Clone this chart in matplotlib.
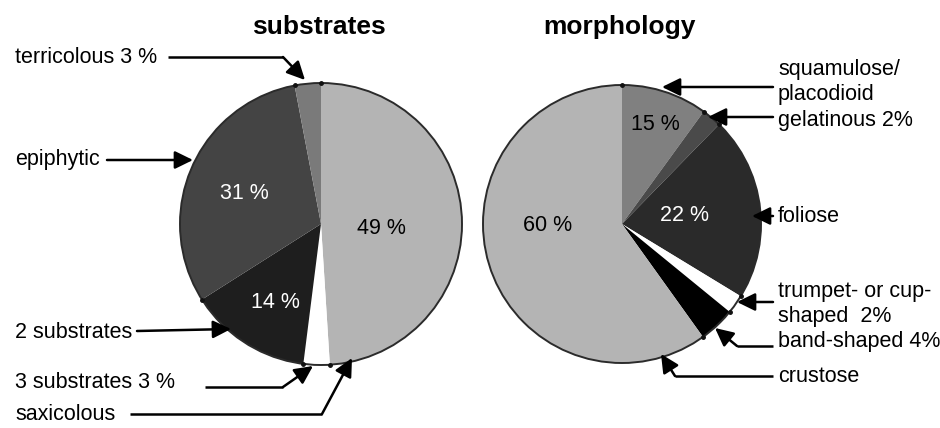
import numpy as np
import matplotlib.pyplot as plt
from matplotlib.patches import Circle

plt.rcParams["font.family"] = ["Liberation Sans", "DejaVu Sans"]

# substrates pie, clockwise from the top
substrate_labels = ["saxicolous", "3 substrates 3 %", "2 substrates", "epiphytic", "terricolous 3 %"]
substrate_values = [49, 3, 14, 31, 3]
substrate_pcts = ["49 %", "", "14 %", "31 %", ""]
substrate_colors = ["#b4b4b4", "#ffffff", "#1e1e1e", "#444444", "#7a7a7a"]

# morphology pie, clockwise from the top (slice sizes as drawn)
morph_labels = ["squamulose/\nplacodioid", "gelatinous 2%", "foliose",
                "trumpet- or cup-\nshaped  2%", "band-shaped 4%", "crustose"]
morph_values = [10, 2.3, 21.4, 2.2, 4.2, 59.9]
morph_pcts = ["15 %", "", "22 %", "", "", "60 %"]
morph_colors = ["#808080", "#4a4a4a", "#2a2a2a", "#ffffff", "#000000", "#b4b4b4"]

# layout in pixel coords of the 940x428 image (y down)
substrate_center, substrate_radius = (321, 224), 141
morph_center, morph_radius = (622, 224), 139

substrate_pct_pos = [(381, 228), None, (275, 303), (244, 193), None]
substrate_pct_color = ["black", None, "white", "white", None]
substrate_text_pos = [(15, 414), (15, 383), (15, 332), (15, 160), (15, 57)]
substrate_callouts = [
    [(130, 414), (322, 414), (352, 358)],
    [(205, 387), (283, 387), (313, 366)],
    [(137, 331), (231, 329)],
    [(107, 160), (193, 160)],
    [(168, 57), (283, 57), (305, 80)],
]

morph_pct_pos = [(655, 124), None, (684, 215), None, None, (548, 225)]
morph_pct_color = ["black", None, "white", None, None, "black"]
morph_text_pos = [(778, 82), (778, 120), (778, 216), (778, 304), (778, 342), (778, 377)]
morph_callouts = [
    [(773, 87), (662, 87)],
    [(773, 117), (708, 117)],
    [(773, 216), (752, 216)],
    [(773, 302), (737, 302)],
    [(773, 346), (737, 346), (715, 328)],
    [(773, 376), (675, 376), (661, 354)],
]

fig = plt.figure(figsize=(9.4, 4.28), dpi=100)
ax = fig.add_axes([0, 0, 1, 1])


def draw_pie(values, colors, center, radius):
    # y axis is inverted, so startangle=-90 with counterclock=True runs
    # clockwise from 12 o'clock on screen
    ax.pie(values, colors=colors, startangle=-90, counterclock=True,
           center=center, radius=radius, wedgeprops=dict(linewidth=0))
    ax.add_patch(Circle(center, radius, fill=False, ec="#2b2b2b", lw=1.4, zorder=3))
    # little dots where the slices meet the rim
    edges = np.deg2rad(-90 + 360 * np.cumsum([0] + list(values[:-1])) / sum(values))
    ax.plot(center[0] + radius * np.cos(edges), center[1] + radius * np.sin(edges),
            "o", color="#111111", ms=2.5, zorder=4)


def draw_callout(points):
    if len(points) > 2:
        xs = [p[0] for p in points[:-1]]
        ys = [p[1] for p in points[:-1]]
        ax.plot(xs, ys, color="black", lw=1.8, solid_capstyle="butt")
    ax.annotate("", xy=points[-1], xytext=points[-2],
                arrowprops=dict(arrowstyle="-|>,head_length=0.55,head_width=0.27",
                                color="black", lw=1.8, mutation_scale=20,
                                shrinkA=0, shrinkB=0), zorder=5)


draw_pie(substrate_values, substrate_colors, substrate_center, substrate_radius)
draw_pie(morph_values, morph_colors, morph_center, morph_radius)

for lab, pos, pts in zip(substrate_labels, substrate_text_pos, substrate_callouts):
    ax.text(pos[0], pos[1], lab, ha="left", va="center", fontsize=15.5)
    draw_callout(pts)
for pct, pos, col in zip(substrate_pcts, substrate_pct_pos, substrate_pct_color):
    if pct:
        ax.text(pos[0], pos[1], pct, ha="center", va="center", fontsize=15.5, color=col)

for lab, pos, pts in zip(morph_labels, morph_text_pos, morph_callouts):
    ax.text(pos[0], pos[1], lab, ha="left", va="center", fontsize=15.5, linespacing=1.2)
    draw_callout(pts)
for pct, pos, col in zip(morph_pcts, morph_pct_pos, morph_pct_color):
    if pct:
        ax.text(pos[0], pos[1], pct, ha="center", va="center", fontsize=15.5, color=col)

ax.text(319, 27, "substrates", ha="center", va="center", fontsize=19, fontweight="bold")
ax.text(619, 27, "morphology", ha="center", va="center", fontsize=19, fontweight="bold")

ax.set_xlim(0, 940)
ax.set_ylim(428, 0)
ax.set_aspect("equal")
ax.axis("off")

fig.savefig("out.png", dpi=100)
plt.close("all")
